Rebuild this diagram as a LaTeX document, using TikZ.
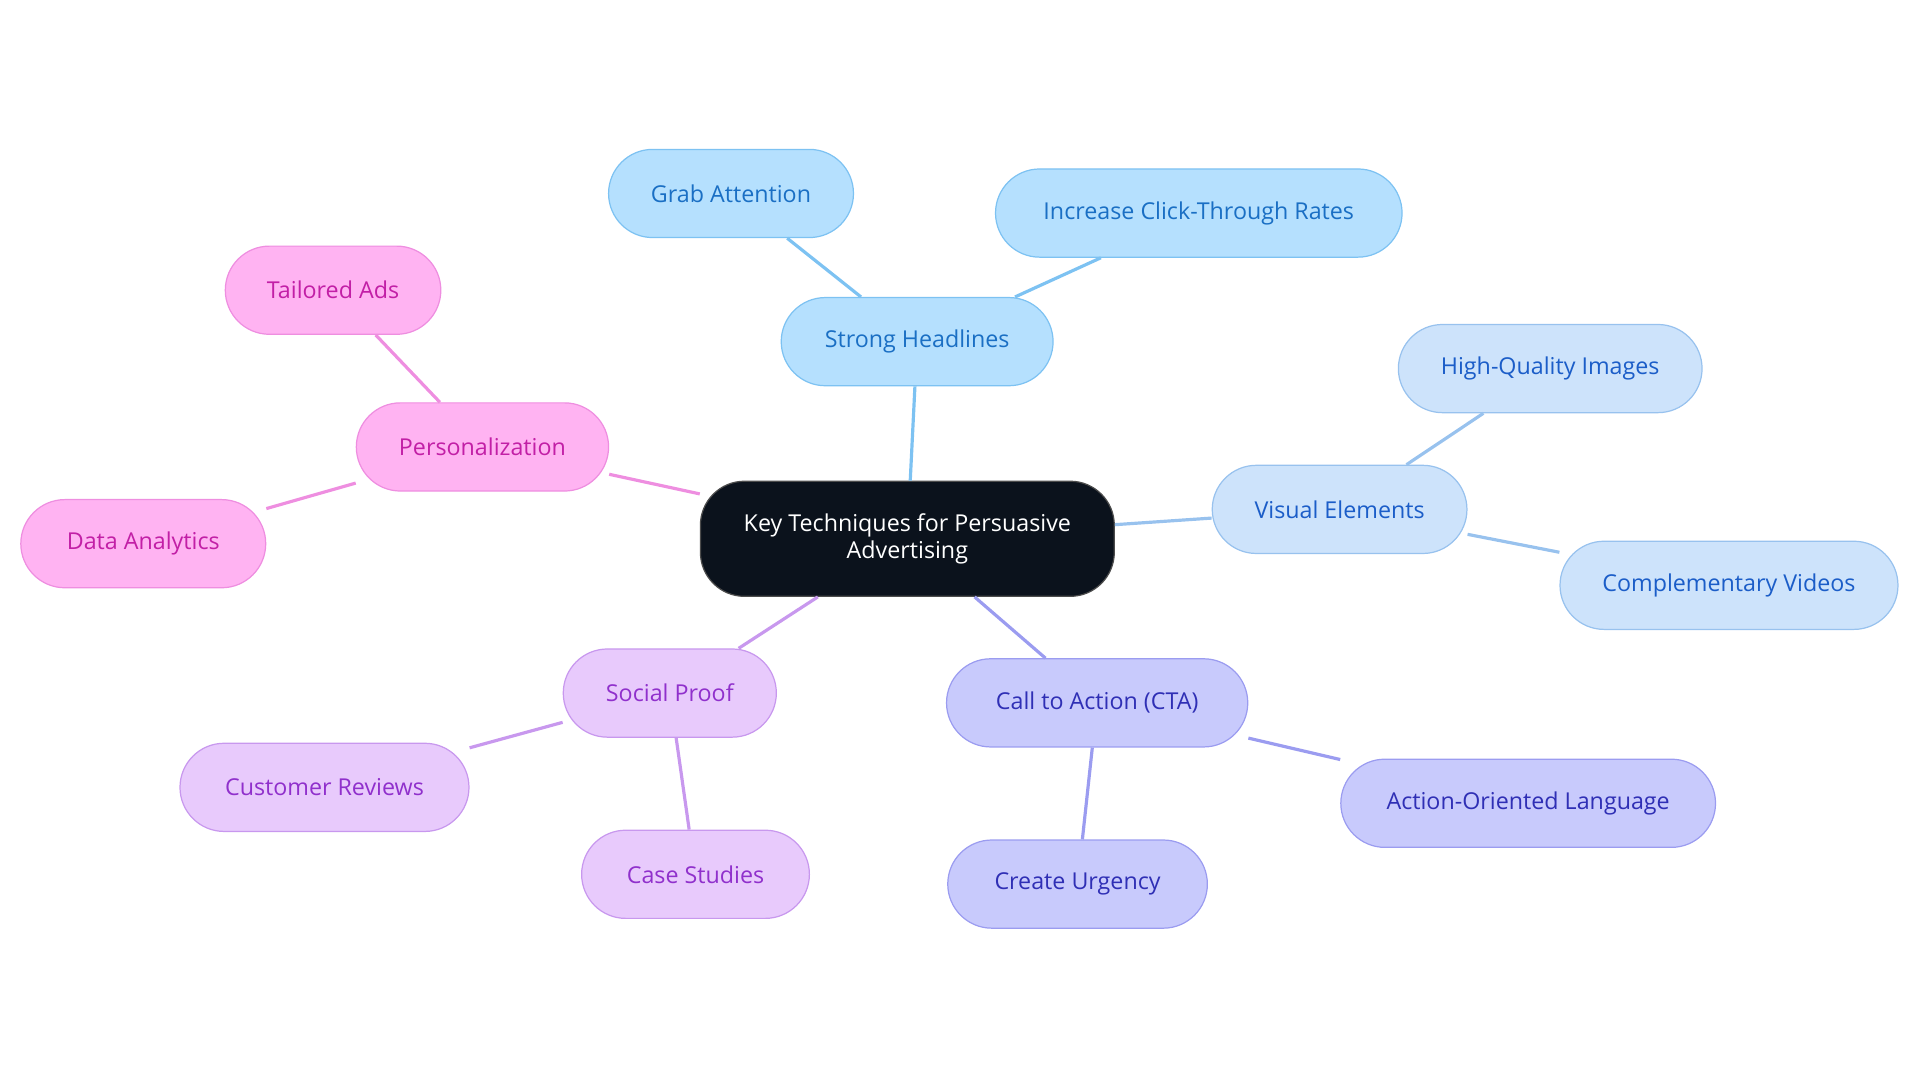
\documentclass[tikz,border=0pt]{standalone}
\usepackage{fontspec}
\setmainfont{Open Sans}
\usetikzlibrary{positioning}

\definecolor{rootfill}{HTML}{0B121C}
\definecolor{bluefill}{HTML}{B5E0FE}\definecolor{bluedraw}{HTML}{7DC2F2}\definecolor{bluetext}{HTML}{1A6FC4}
\definecolor{skyfill}{HTML}{CDE3FB}\definecolor{skydraw}{HTML}{98C2EE}\definecolor{skytext}{HTML}{1B5DC8}
\definecolor{violetfill}{HTML}{C8CAFC}\definecolor{violetdraw}{HTML}{9B9CF0}\definecolor{violettext}{HTML}{2F2FB5}
\definecolor{lilacfill}{HTML}{E8CAFC}\definecolor{lilacdraw}{HTML}{C898EE}\definecolor{lilactext}{HTML}{9030CC}
\definecolor{pinkfill}{HTML}{FFB3F2}\definecolor{pinkdraw}{HTML}{EE8EE0}\definecolor{pinktext}{HTML}{C21FA6}

\tikzset{
  topic/.style={draw, rounded corners=18pt, minimum height=36pt, inner sep=0pt,
    font=\fontsize{9.5}{11}\selectfont, line width=0.5pt},
  blue/.style={topic, fill=bluefill, draw=bluedraw, text=bluetext},
  sky/.style={topic, fill=skyfill, draw=skydraw, text=skytext},
  violet/.style={topic, fill=violetfill, draw=violetdraw, text=violettext},
  lilac/.style={topic, fill=lilacfill, draw=lilacdraw, text=lilactext},
  pink/.style={topic, fill=pinkfill, draw=pinkdraw, text=pinktext},
  link/.style={line width=1.3pt}
}

\begin{document}
\begin{tikzpicture}[x=0.5pt, y=-0.5pt]
    \useasboundingbox (0,0) rectangle (1568,884);

    \node (root) [topic, fill=rootfill, draw=black!70, text=white, align=center,
      minimum width=169pt, minimum height=47pt] at (741,440)
      {Key Techniques for Persuasive\\Advertising};

    \node (head) [blue, minimum width=111pt] at (749,279) {Strong Headlines};
    \node (grab) [blue, minimum width=100pt] at (597,158) {Grab Attention};
    \node (click) [blue, minimum width=166pt] at (979,174) {Increase Click-Through Rates};

    \node (visual) [sky, minimum width=104pt] at (1094,416) {Visual Elements};
    \node (images) [sky, minimum width=124pt] at (1266,301) {High-Quality Images};
    \node (videos) [sky, minimum width=138pt] at (1412,478) {Complementary Videos};

    \node (cta) [violet, minimum width=123pt] at (896,574) {Call to Action (CTA)};
    \node (lang) [violet, minimum width=153pt] at (1248,656) {Action-Oriented Language};
    \node (urgent) [violet, minimum width=106pt] at (880,722) {Create Urgency};

    \node (social) [lilac, minimum width=87pt] at (547,566) {Social Proof};
    \node (reviews) [lilac, minimum width=118pt] at (265,643) {Customer Reviews};
    \node (cases) [lilac, minimum width=93pt] at (568,714) {Case Studies};

    \node (person) [pink, minimum width=103pt] at (394,365) {Personalization};
    \node (ads) [pink, minimum width=88pt] at (272,237) {Tailored Ads};
    \node (data) [pink, minimum width=100pt] at (117,444) {Data Analytics};

    \begin{scope}[on background layer/.style={}]
    \draw [link, bluedraw] (root) -- (head);
    \draw [link, bluedraw] (head) -- (grab);
    \draw [link, bluedraw] (head) -- (click);

    \draw [link, skydraw] (root) -- (visual);
    \draw [link, skydraw] (visual) -- (images);
    \draw [link, skydraw] (visual) -- (videos);

    \draw [link, violetdraw] (root) -- (cta);
    \draw [link, violetdraw] (cta) -- (lang);
    \draw [link, violetdraw] (cta) -- (urgent);

    \draw [link, lilacdraw] (root) -- (social);
    \draw [link, lilacdraw] (social) -- (reviews);
    \draw [link, lilacdraw] (social) -- (cases);

    \draw [link, pinkdraw] (root) -- (person);
    \draw [link, pinkdraw] (person) -- (ads);
    \draw [link, pinkdraw] (person) -- (data);
    \end{scope}
\end{tikzpicture}
\end{document}
